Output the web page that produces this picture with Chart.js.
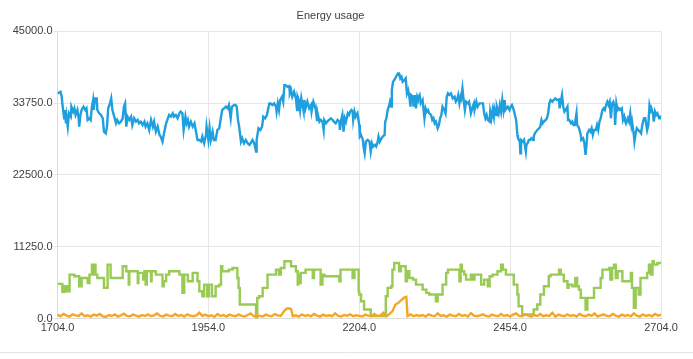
<!DOCTYPE html>
<html><head><meta charset="utf-8">
<script src="https://cdn.jsdelivr.net/npm/chart.js@4.4.0/dist/chart.umd.min.js"></script>
<style>html,body{margin:0;padding:0;background:#fff;}#wrap{width:693px;height:359px;position:relative;}</style>
</head><body><div id="wrap"><canvas id="c" width="693" height="359"></canvas></div>
<script>
const chartTitle = "Energy usage";
const xTicks = [1704, 1954, 2204, 2454, 2704];
const yTicks = [0, 11250, 22500, 33750, 45000];

const blueX = [1704,1709,1711,1712,1715,1716,1718,1719,1721,1723,1726,1727,1730,1732,1734,1737,1739,1740,1742,1744,1747,1750,1752,1754,1757,1759,1761,1763,1764,1766,1769,1770,1773,1776,1779,1781,1784,1786,1788,1791,1793,1795,1798,1801,1803,1806,1809,1812,1814,1816,1818,1820,1823,1826,1828,1831,1834,1837,1839,1842,1845,1848,1850,1853,1856,1859,1862,1864,1867,1870,1873,1875,1878,1881,1884,1886,1889,1892,1895,1897,1900,1903,1906,1908,1911,1913,1916,1918,1920,1922,1925,1928,1931,1933,1936,1939,1942,1944,1947,1950,
1951,1954,1956,1958,1961,1963,1966,1969,1972,1975,1977,1980,1983,1986,1988,1991,1993,1997,1999,2001,2003,2005,2008,2010,2013,2016,2019,2022,2024,2027,2030,2033,2034,2037,2040,2043,2045,2048,2051,2055,2057,2060,2063,2066,2067,2069,2071,2073,2076,2078,2080,2082,2085,2088,2089,2091,2093,2096,2099,2101,2102,2104,2106,2108,2110,2112,2113,2115,2118,2121,2124,2125,2128,2130,2132,2134,2135,2138,2140,2143,2145,2146,2149,2151,2154,2157,2160,2162,2165,2168,2171,2172,2174,2176,2178,2180,2182,2185,2187,2189,2191,2193,2194,2196,2198,2201,2204,
2205,2207,2210,2211,2213,2215,2218,2221,2223,2225,2227,2230,2232,2234,2236,2238,2241,2243,2246,2247,2249,2251,2253,2255,2257,2258,2260,2262,2265,2268,2270,2272,2274,2276,2279,2281,2283,2285,2287,2289,2290,2293,2294,2296,2298,2300,2301,2304,2306,2309,2312,2314,2316,2318,2320,2323,2325,2327,2329,2331,2334,2336,2338,2340,2342,2345,2347,2349,2351,2353,2356,2359,2362,2364,2366,2368,2370,2372,2373,2375,2377,2379,2381,2384,2386,2389,2392,2394,2395,2398,2400,2403,2406,2409,2411,2413,2415,2417,2420,2421,2423,2425,2427,2428,2431,2432,2435,2437,2439,2441,2443,2445,2446,2448,2450,2453,
2455,2457,2460,2462,2464,2466,2467,2470,2471,2472,2475,2477,2480,2481,2483,2485,2487,2489,2492,2493,2495,2497,2499,2502,2504,2506,2508,2510,2513,2515,2517,2519,2521,2524,2526,2529,2532,2535,2536,2539,2540,2542,2544,2546,2549,2550,2552,2555,2557,2559,2561,2564,2565,2567,2569,2571,2572,2575,2577,2579,2581,2582,2585,2587,2589,2591,2593,2596,2598,2600,2602,2604,2607,2609,2611,2613,2615,2617,2619,2621,2623,2625,2627,2628,2630,2632,2634,2636,2639,2641,2643,2644,2646,2649,2651,2653,2655,2656,2659,2660,2662,2664,2666,2669,2671,2673,2675,2676,2678,2681,2683,2685,2687,2688,2691,2692,2694,2696,2698,2701,2702,2704];
const blueY = [35260,35520,34740,33700,31360,32660,30570,31620,30050,32140,31620,33180,32400,32920,31880,32660,31360,30050,31880,32660,33180,32660,32920,31100,31360,31100,33180,34220,32660,34480,34480,32660,32140,31880,31360,29270,29010,30050,32920,33700,34480,32660,31620,30570,31100,30570,30830,31360,33180,33700,30050,31620,31100,31620,30310,31360,30830,31100,30570,30830,30310,30830,30050,30570,29530,31100,30050,30830,29270,30050,28750,28490,27710,29270,30570,31100,31880,31620,32140,31620,31880,31360,32140,32400,32140,29530,31620,30570,31100,30050,30830,30050,30570,29530,27970,27970,27710,28490,27450,28750,
30050,27970,29790,27970,29270,27970,27970,29530,29790,31620,32660,32920,33180,32920,33440,31360,33180,33440,33440,33180,31100,30050,27710,28230,27450,27970,27450,27190,27450,27970,27450,26150,27970,29790,29530,30050,31620,31360,31880,33700,33700,33440,33700,33180,32400,33700,32660,34220,34740,33960,36560,36560,36300,36410,35260,35780,34740,35520,34480,32660,34740,34220,32660,34480,33440,32400,34220,32920,33960,32920,33440,32400,33960,33440,32660,31100,32140,30830,31100,30830,29530,31100,30570,30830,31100,31360,31100,30830,30570,31100,30830,29530,31100,31880,29270,31360,30830,32140,31880,32400,32660,32400,31100,32400,31620,32140,30310,
28490,28750,27970,26930,25890,27710,27970,27710,26150,27450,26930,27190,26930,27450,28490,27710,28230,28490,28750,30830,31360,32660,33180,33960,33180,35780,37080,37350,37870,38390,38390,37610,37870,37080,37350,37610,35260,35780,34740,33180,35000,34740,33180,35000,32920,34740,34480,35000,33700,34220,31360,32920,32400,32660,32140,31880,31100,31360,30570,30830,29790,30310,31360,31880,33180,32660,32140,34740,35260,35000,35260,34480,34740,33960,34220,35000,33700,34740,34480,36040,34220,32660,33960,33700,33960,32140,33180,33700,32660,33960,33180,33700,33700,33700,32140,31360,31880,31100,30830,32400,31360,32660,31620,32920,31880,33180,32140,33440,32400,34220,32660,34220,32660,32920,33180,32660,
33180,33440,32660,31880,31100,28750,28230,27710,25890,27970,27710,27970,26150,27190,27450,27970,27970,28230,27970,28490,29010,29270,29530,29790,30050,31100,30570,30830,31100,31360,32140,33700,34220,33960,34220,34480,34220,34320,32920,34480,35000,33180,32400,32660,33180,31100,31100,30570,30830,30310,30310,32140,30310,30050,29530,28750,27970,28230,27450,25630,27710,29010,29530,29270,29790,28750,29530,29530,30310,29530,30830,31360,32660,32920,32660,33440,33960,33440,33960,31360,33700,33960,33180,30310,33700,32660,32920,32660,32920,31100,31620,31100,30570,31360,30830,32140,30310,30830,28750,27710,29010,29790,29530,29270,29010,30310,31100,31360,31360,29530,30310,33440,32660,32920,31880,30830,32400,31880,32140,31360,31620,31620];

const greenX = [1704,1712,1716,1720,1724,1732,1740,1744,1754,1757,1761,1763,1765,1767,1770,1781,1787,1792,1812,1818,1822,1823,1837,1838,1846,1848,1850,1852,1859,1860,1867,1878,1880,1884,1889,1906,1911,1914,1920,1928,1936,1939,1944,1947,
1950,1952,1955,1960,1966,1972,1975,1977,1988,1994,2002,2004,2006,2033,2035,2038,2044,2052,2066,2071,2074,2080,2091,2099,2102,2103,2105,2107,2115,2127,2129,2140,2143,2146,2171,2173,2193,2196,2203,
2204,2207,2212,2223,2248,2251,2257,2259,2262,2270,2273,2281,2283,2287,2293,2298,2309,2315,2320,2331,2334,2342,2348,2351,2370,2372,2374,2378,2381,2389,2392,2395,2406,2411,2417,2420,2425,2433,2439,2442,2445,
2447,2460,2466,2468,2474,2493,2499,2504,2510,2518,2521,2535,2538,2543,2549,2551,2557,2562,2565,2568,2571,2579,2582,2593,2604,2607,2618,2620,2623,2626,2629,2632,2640,2654,2656,2659,2662,2667,2670,2681,2684,2687,2690,2692,2698,2704];
const greenY = [5420,4170,5050,4270,6880,6610,5050,6350,5570,6880,8440,6880,8440,6880,6350,4790,8440,6350,8180,7400,5310,7400,5570,7140,6090,7400,5310,7400,5830,7400,6880,5050,5830,6880,7400,6880,4010,6880,5830,7140,5830,4270,3490,5310,
5310,3490,5310,3490,5050,5310,8180,7400,7660,7920,6350,4790,2190,100,3230,3490,4790,6880,7660,6880,7920,8960,8180,7400,5310,6880,5570,7140,7660,6350,7660,5310,6880,6610,5830,7660,6350,7660,4270,
3750,2710,1410,370,3490,4790,5050,7660,8700,7400,8180,5830,7400,6350,6090,5310,4530,4010,3750,2710,3750,5310,7140,7660,5830,8440,7400,6880,6090,6880,6090,6880,5310,6090,5050,6610,6880,7400,8440,7660,7660,
6880,5310,3750,1930,630,1410,2190,3750,5050,6610,6880,7660,6880,5830,4790,5310,5050,6350,5050,4530,3230,1410,3230,4790,6350,7660,7920,6090,7920,8440,6350,7400,5830,7140,4790,1670,4790,3750,6350,7140,8440,6880,8960,8440,8700,8700];

const orangeX = [1704,1709,1714,1719,1724,1729,1734,1739,1744,1749,1754,1759,1764,1769,1774,1779,1784,1789,1794,1799,1804,1809,1814,1819,1824,1829,1834,1839,1844,1849,1854,1859,1864,1869,1874,1879,1884,1889,1894,1899,1904,1909,1914,1919,1924,1929,1934,1939,1944,1949,1954,1959,1964,1969,1974,1979,1984,1989,1994,1999,2004,2009,2014,2019,2024,2029,2034,2039,2044,2049,2054,2059,2064,2069,2074,2079,2084,2089,2091,2094,2099,2104,2109,2114,2119,2124,2129,2134,2139,2144,2149,2154,2159,2164,2169,2174,2179,2184,2189,2194,2199,2204,2209,2214,2219,2224,2229,2234,2239,2244,2249,2254,2259,2264,2269,2274,2279,2282,2284,2289,2294,2299,2304,2309,2314,2319,2324,2329,2334,2339,2344,2349,2354,2359,2364,2369,2374,2379,2384,2389,2394,2399,2404,2409,2414,2419,2424,2429,2434,2439,2444,2449,2454,2459,2464,2469,2474,2479,2484,2489,2494,2499,2504,2509,2514,2519,2524,2529,2534,2539,2544,2549,2554,2559,2564,2569,2574,2579,2584,2589,2594,2599,2604,2609,2614,2619,2624,2629,2634,2639,2644,2649,2654,2659,2664,2669,2674,2679,2684,2689,2694,2699,2704];
const orangeY = [600,350,700,450,300,650,500,400,800,350,500,300,600,450,700,350,250,550,400,650,300,500,750,400,350,600,450,300,550,400,650,350,500,800,400,300,600,450,350,700,400,550,300,650,450,350,500,900,400,600,350,500,250,700,400,550,300,600,450,350,650,400,300,550,800,350,500,400,300,600,450,350,700,500,400,1100,1560,1560,1500,350,500,300,650,400,550,350,700,450,300,600,400,500,350,800,400,300,550,450,650,350,500,400,300,600,450,350,700,400,500,900,350,700,1150,2190,2450,2900,3300,3400,400,650,350,550,400,550,300,650,450,350,800,400,500,300,600,450,350,700,400,550,300,850,450,350,500,650,400,300,600,450,350,700,400,550,300,600,800,400,350,650,450,300,550,400,700,350,500,400,900,300,600,450,350,650,400,550,300,700,450,350,600,400,800,300,500,650,400,350,700,450,300,600,400,550,350,800,450,300,650,400,550,350,700,450,600];

const toPts = (xs, ys) => xs.map((x, i) => ({x: x, y: ys[i]}));
const FONT = {family: "'Liberation Sans', Arial, sans-serif", size: 11, weight: 'normal'};
const TXT = '#404040';
const GRID = '#e6e6e6';

const bottomLine = {
  id: 'bottomLine',
  beforeDraw(chart) {
    const ctx = chart.ctx;
    ctx.save();
    ctx.fillStyle = '#ffffff';
    ctx.fillRect(0, 0, chart.width, chart.height);
    ctx.strokeStyle = '#e4e4e4';
    ctx.lineWidth = 1;
    ctx.beginPath();
    ctx.moveTo(0, 352.5);
    ctx.lineTo(chart.width, 352.5);
    ctx.stroke();
    ctx.restore();
  }
};

new Chart(document.getElementById('c'), {
  type: 'line',
  data: {
    datasets: [
      {label: 'c', data: toPts(orangeX, orangeY), borderColor: '#f6a625', borderWidth: 2.4, pointRadius: 0, tension: 0, fill: false},
      {label: 'b', data: toPts(greenX, greenY), borderColor: '#99ca53', borderWidth: 2.4, pointRadius: 0, stepped: true, fill: false},
      {label: 'a', data: toPts(blueX, blueY), borderColor: '#209fdf', borderWidth: 2.4, pointRadius: 0, tension: 0, fill: false}
    ]
  },
  options: {
    responsive: false,
    devicePixelRatio: 1,
    animation: false,
    layout: {padding: {left: 0, right: 32, top: 0, bottom: 0}},
    plugins: {
      legend: {display: false},
      tooltip: {enabled: false},
      title: {display: true, text: chartTitle, color: TXT, font: FONT, padding: {top: 9, bottom: 9}}
    },
    scales: {
      x: {
        type: 'linear', min: 1704, max: 2704,
        afterBuildTicks: s => { s.ticks = xTicks.map(v => ({value: v})); },
        afterFit: s => { s.height = 40.5; },
        ticks: {callback: v => Number(v).toFixed(1), color: TXT, font: FONT, maxRotation: 0, autoSkip: false, padding: 1},
        grid: {color: GRID, tickLength: 2},
        border: {color: '#dcdcdc'}
      },
      y: {
        type: 'linear', min: 0, max: 45000,
        afterBuildTicks: s => { s.ticks = yTicks.map(v => ({value: v})); },
        afterFit: s => { s.width = 57.5; },
        ticks: {callback: v => Number(v).toFixed(1), color: TXT, font: FONT, padding: 1},
        grid: {color: GRID, tickLength: 4},
        border: {color: '#dcdcdc'}
      }
    }
  },
  plugins: [bottomLine]
});
</script>
</body></html>
